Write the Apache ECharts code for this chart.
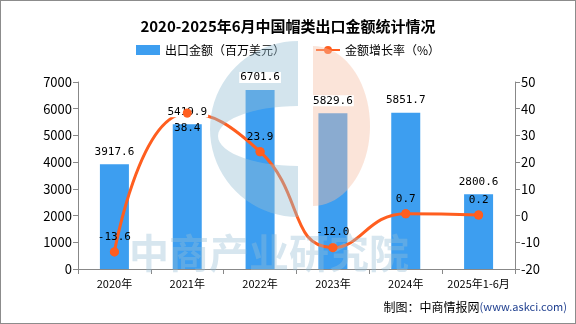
<!DOCTYPE html>
<html>
<head>
<meta charset="utf-8">
<script src="https://cdn.jsdelivr.net/npm/echarts@6/dist/echarts.min.js"></script>
<style>
html,body{margin:0;padding:0;background:#fff;}
#chart{width:574px;height:322px;border:1px solid #8c8c8c;}
</style>
</head>
<body>
<div id="chart"></div>
<script>
// Hat exports, China, 2020 – H1 2025
const categories = ['2020年', '2021年', '2022年', '2023年', '2024年', '2025年1-6月'];
const exportValue = [3917.6, 5419.9, 6701.6, 5829.6, 5851.7, 2800.6];   // million USD
const growthRate = [-13.6, 38.4, 23.9, -12.0, 0.7, 0.2];               // %
const leftTicks = { min: 0, max: 7000, interval: 1000 };
const rightTicks = { min: -20, max: 50, interval: 10 };

const chart = echarts.init(document.getElementById('chart'));
const txtFont = '"Noto Sans CJK SC", "Noto Sans", sans-serif';
const numFont = '"DejaVu Sans Mono", monospace';
const barColor = '#3d9ef0';
const lineColor = '#ff5e1f';

// rate labels: the 2021 one sits below its point
const rateLabelData = growthRate.map((v, i) => ({
  value: v,
  label: { position: i === 1 ? 'bottom' : 'top' }
}));

// watermark logo outlines (elliptical arcs sampled into polygons)
function arcPts(cx, cy, rx, ry, a0, a1, n) {
  const pts = [];
  for (let k = 0; k <= n; k++) {
    const a = a0 + (a1 - a0) * k / n;
    pts.push([cx + rx * Math.cos(a), cy + ry * Math.sin(a)]);
  }
  return pts;
}
const logoBlue = arcPts(297, 128, 88, 88, -Math.PI / 2, -Math.PI * 1.5, 40)
  .concat(arcPts(297, 135, 80, 30, Math.PI / 2, Math.PI * 1.5, 30));
const logoPeach = arcPts(312, 125, 57, 80, -Math.PI / 2, Math.PI / 2, 40);

chart.setOption({
  animation: false,
  backgroundColor: '#fff',
  title: {
    text: '2020-2025年6月中国帽类出口金额统计情况',
    left: 'center',
    top: 13,
    textStyle: { fontSize: 15, fontWeight: 'bold', color: '#000', fontFamily: txtFont }
  },
  legend: {
    top: 38,
    left: 'center',
    itemGap: 30,
    itemWidth: 24,
    itemHeight: 10,
    textStyle: { fontSize: 12, color: '#000', fontFamily: txtFont },
    data: [
      { name: '出口金额（百万美元）', icon: 'rect' },
      { name: '金额增长率（%）' }
    ]
  },
  graphic: [
    {
      type: 'text', right: 8, top: 300,
      style: {
        text: '{a|制图：中商情报网}{b|(www.askci.com)}',
        rich: {
          a: { fontSize: 12, fill: '#000', fontFamily: txtFont },
          b: { fontSize: 11, fill: '#1f3f8f', fontFamily: txtFont }
        }
      }
    },
    {
      type: 'polygon', z: 5, silent: true,
      shape: { points: logoBlue },
      style: { fill: 'rgba(150,190,212,0.42)' }
    },
    {
      type: 'polygon', z: 5, silent: true,
      shape: { points: logoPeach },
      style: { fill: 'rgba(245,190,165,0.42)' }
    },
    {
      type: 'text', left: 128, top: 232, z: 5, silent: true,
      style: {
        text: '中商产业研究院',
        fontSize: 40, fontWeight: 'bold',
        fill: 'rgba(150,190,212,0.38)', fontFamily: txtFont
      }
    }
  ],
  grid: { left: 77, right: 60, top: 81, bottom: 54 },
  xAxis: {
    type: 'category',
    data: categories,
    axisLine: { lineStyle: { color: '#888' } },
    axisTick: { show: true, lineStyle: { color: '#888' } },
    axisLabel: { color: '#000', fontSize: 11, margin: 9, interval: 0, fontFamily: txtFont }
  },
  yAxis: [
    {
      type: 'value',
      min: leftTicks.min, max: leftTicks.max, interval: leftTicks.interval,
      axisLine: { show: true, lineStyle: { color: '#888' } },
      axisTick: { show: true, lineStyle: { color: '#888' } },
      splitLine: { show: false },
      axisLabel: { color: '#000', fontSize: 13, fontFamily: txtFont, margin: 6, formatter: v => String(v) }
    },
    {
      type: 'value',
      min: rightTicks.min, max: rightTicks.max, interval: rightTicks.interval,
      axisLine: { show: true, lineStyle: { color: '#888' } },
      axisTick: { show: true, lineStyle: { color: '#888' } },
      splitLine: { show: false },
      axisLabel: { color: '#000', fontSize: 13, fontFamily: txtFont, margin: 6, formatter: v => String(v) }
    }
  ],
  series: [
    {
      name: '出口金额（百万美元）',
      type: 'bar',
      data: exportValue,
      barWidth: 29,
      z: 2,
      itemStyle: { color: barColor }
    },
    {
      name: '金额增长率（%）',
      type: 'line',
      yAxisIndex: 1,
      data: growthRate,
      smooth: true,
      symbol: 'circle',
      symbolSize: 9,
      z: 3,
      lineStyle: { color: lineColor, width: 3 },
      itemStyle: { color: lineColor }
    },
    // value labels drawn above the watermark
    {
      name: 'barLabels',
      type: 'bar',
      data: exportValue,
      barWidth: 29,
      barGap: '-100%',
      z: 10,
      silent: true,
      itemStyle: { color: 'rgba(0,0,0,0)' },
      label: {
        show: true, position: 'top', distance: 7,
        color: '#000', fontSize: 11, fontFamily: numFont,
        backgroundColor: '#fff', padding: [0, 1],
        formatter: p => p.value.toFixed(1)
      }
    },
    {
      name: 'rateLabels',
      type: 'line',
      yAxisIndex: 1,
      data: rateLabelData,
      smooth: true,
      symbol: 'circle',
      symbolSize: 9,
      z: 11,
      silent: true,
      lineStyle: { opacity: 0 },
      itemStyle: { color: lineColor },
      label: {
        show: true, distance: 5,
        color: '#000', fontSize: 11, fontFamily: numFont,
        formatter: p => p.value.toFixed(1)
      }
    }
  ]
});
</script>
</body>
</html>
